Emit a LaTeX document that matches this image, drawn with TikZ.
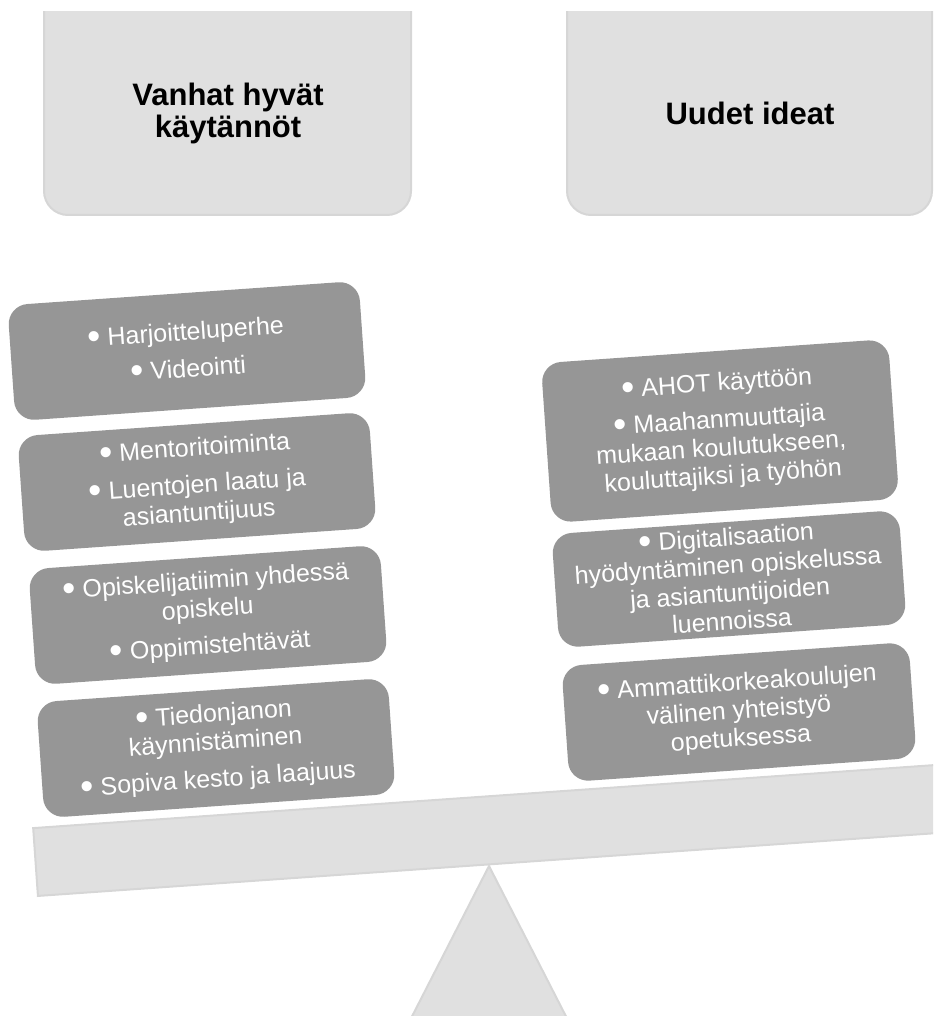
\documentclass[tikz,border=0pt]{standalone}
\usepackage{fontspec}
\setmainfont{Liberation Sans}
\usetikzlibrary{positioning}

\definecolor{panel}{RGB}{224,224,224}
\definecolor{panelline}{RGB}{214,214,214}
\definecolor{itemgray}{RGB}{150,150,150}

% bigger round bullet
\newcommand\dotitem{\raisebox{-0.2ex}{\scalebox{1.5}{\textbullet}}\ }

\tikzset{
  head/.style={fill=panel, draw=panelline, line width=1pt, rounded corners=12pt},
  headtext/.style={align=center, font=\bfseries\fontsize{15.5}{16}\selectfont},
  item/.style={fill=itemgray, rounded corners=10pt, rotate=4, text=white, align=center,
    inner sep=2pt, font=\fontsize{12.5}{14}\selectfont},
  olditem/.style={item, minimum width=176pt},
  newitem/.style={item, minimum width=174pt},
  lever/.style={fill=panel, draw=panelline, line width=1pt},
}

\begin{document}
\begin{tikzpicture}[x=0.5pt, y=-0.5pt]
    \clip (0,0) rectangle (933,1016);

    % draw heading panels (top edge cut off)
    \begin{scope}
      \clip (0,12) rectangle (933,1016);
      \draw[head] (44,-20) rectangle (411,215);
      \draw[head] (567,-20) rectangle (932,215);
    \end{scope}
    \node[headtext] (oldtitle) at (228,113) {Vanhat hyvät\\käytännöt};
    \node[headtext] (newtitle) at (750,113) {Uudet ideat};

    % draw fulcrum and beam
    \draw[lever] (489,866) -- (361,1116) -- (617,1116) -- cycle;
    \node[lever, rotate=4, anchor=south west, minimum width=480pt, minimum height=34pt,
      inner sep=0pt] (beam) at (37,897) {};

    % left pile
    \node[olditem, minimum height=58pt] (old1) at (187,351)
      {\dotitem Harjoitteluperhe\\[4.5pt] \dotitem Videointi};
    \node[olditem, minimum height=58pt] (old2) at (197,482)
      {\dotitem Mentoritoiminta\\[4.5pt] \dotitem Luentojen laatu ja\\asiantuntijuus};
    \node[olditem, minimum height=58pt] (old3) at (208,615)
      {\dotitem Opiskelijatiimin yhdessä\\opiskelu\\[4.5pt] \dotitem Oppimistehtävät};
    \node[olditem, minimum height=58pt] (old4) at (216,748)
      {\dotitem Tiedonjanon\\käynnistäminen\\[4.5pt] \dotitem Sopiva kesto ja laajuus};

    % right pile
    \node[newitem, minimum height=80pt] (new1) at (720,431)
      {\dotitem AHOT käyttöön\\[4.5pt] \dotitem Maahanmuuttajia\\mukaan koulutukseen,\\kouluttajiksi ja työhön};
    \node[newitem, minimum height=57pt] (new2) at (729,579)
      {\dotitem Digitalisaation\\hyödyntäminen opiskelussa\\ja asiantuntijoiden\\luennoissa};
    \node[newitem, minimum height=58pt] (new3) at (739,712)
      {\dotitem Ammattikorkeakoulujen\\välinen yhteistyö\\opetuksessa};
\end{tikzpicture}
\end{document}
